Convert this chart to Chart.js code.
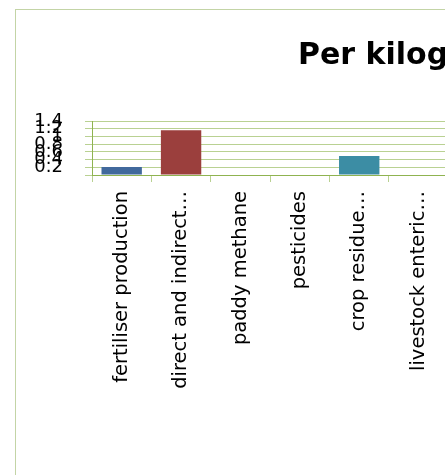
<!DOCTYPE html>
<html>
<head>
<meta charset="utf-8">
<script src="https://cdn.jsdelivr.net/npm/chart.js@4/dist/chart.umd.min.js"></script>
<style>
  html, body { margin: 0; padding: 0; background: #fff; overflow: hidden; width: 445px; height: 475px; }
  #frame { position: absolute; left: 15px; top: 9px; width: 600px; height: 600px;
           border-left: 1px solid #c3d4a6; border-top: 1px solid #c3d4a6; }
  #title { position: absolute; left: 298px; top: 39px; margin: 0; white-space: nowrap;
           font: bold 30px "DejaVu Sans"; line-height: 30px; color: #000; }
  #total-emissions { position: absolute; left: 0; top: 0; }
</style>
</head>
<body>
<div id="frame"></div>
<canvas id="total-emissions" width="451" height="475"></canvas>
<h1 id="title">Per kilogram of paddy</h1>
<script>
const categories = ["fertiliser production", "direct and indirect…", "paddy methane", "pesticides", "crop residue…", "livestock enteric…"];
const emissions = [0.21, 1.16, 0, 0, 0.49, 0];
const barColors = ['#41699c', '#9b3f3d', '#7f9d45', '#6a5089', '#3c8da4', '#d7812e'];
const yTickLabels = ['', '0.2', '0.4', '0.6', '0.8', '1', '1.2', '1.4'];

const totalChart = () => {
  let ctx = document.getElementById("total-emissions");
  if (ctx) {
    ctx = ctx.getContext('2d');

    const chart = new Chart(ctx, {
      type: 'bar',
      data: {
        labels: categories,
        datasets: [{
          data: emissions,
          backgroundColor: barColors,
          borderWidth: 0,
          categoryPercentage: 1,
          barPercentage: 0.68
        }]
      },
      options: {
        responsive: false,
        animation: false,
        layout: {
          padding: { left: 0, right: 0, top: 121, bottom: 0 }
        },
        plugins: {
          legend: { display: false },
          tooltip: { enabled: false }
        },
        scales: {
          x: {
            afterFit: (scale) => { scale.height = 300; },
            border: { color: '#8fb350', width: 1 },
            grid: { drawOnChartArea: false, tickLength: 7, color: '#b9d192' },
            ticks: {
              autoSkip: false,
              minRotation: 90,
              maxRotation: 90,
              padding: 9,
              color: '#000',
              font: { family: 'DejaVu Sans', size: 19.5 }
            }
          },
          y: {
            min: 0,
            max: 1.4,
            afterFit: (scale) => { scale.width = 92; },
            border: { color: '#8fb350', width: 1 },
            grid: { tickLength: 7, color: '#b9d192' },
            ticks: {
              stepSize: 0.2,
              autoSkip: false,
              padding: 22,
              color: '#000',
              font: { family: 'DejaVu Sans', size: 18 },
              callback: (value, i) => yTickLabels[i]
            }
          }
        }
      }
    });
  }
};

totalChart();
</script>
</body>
</html>
